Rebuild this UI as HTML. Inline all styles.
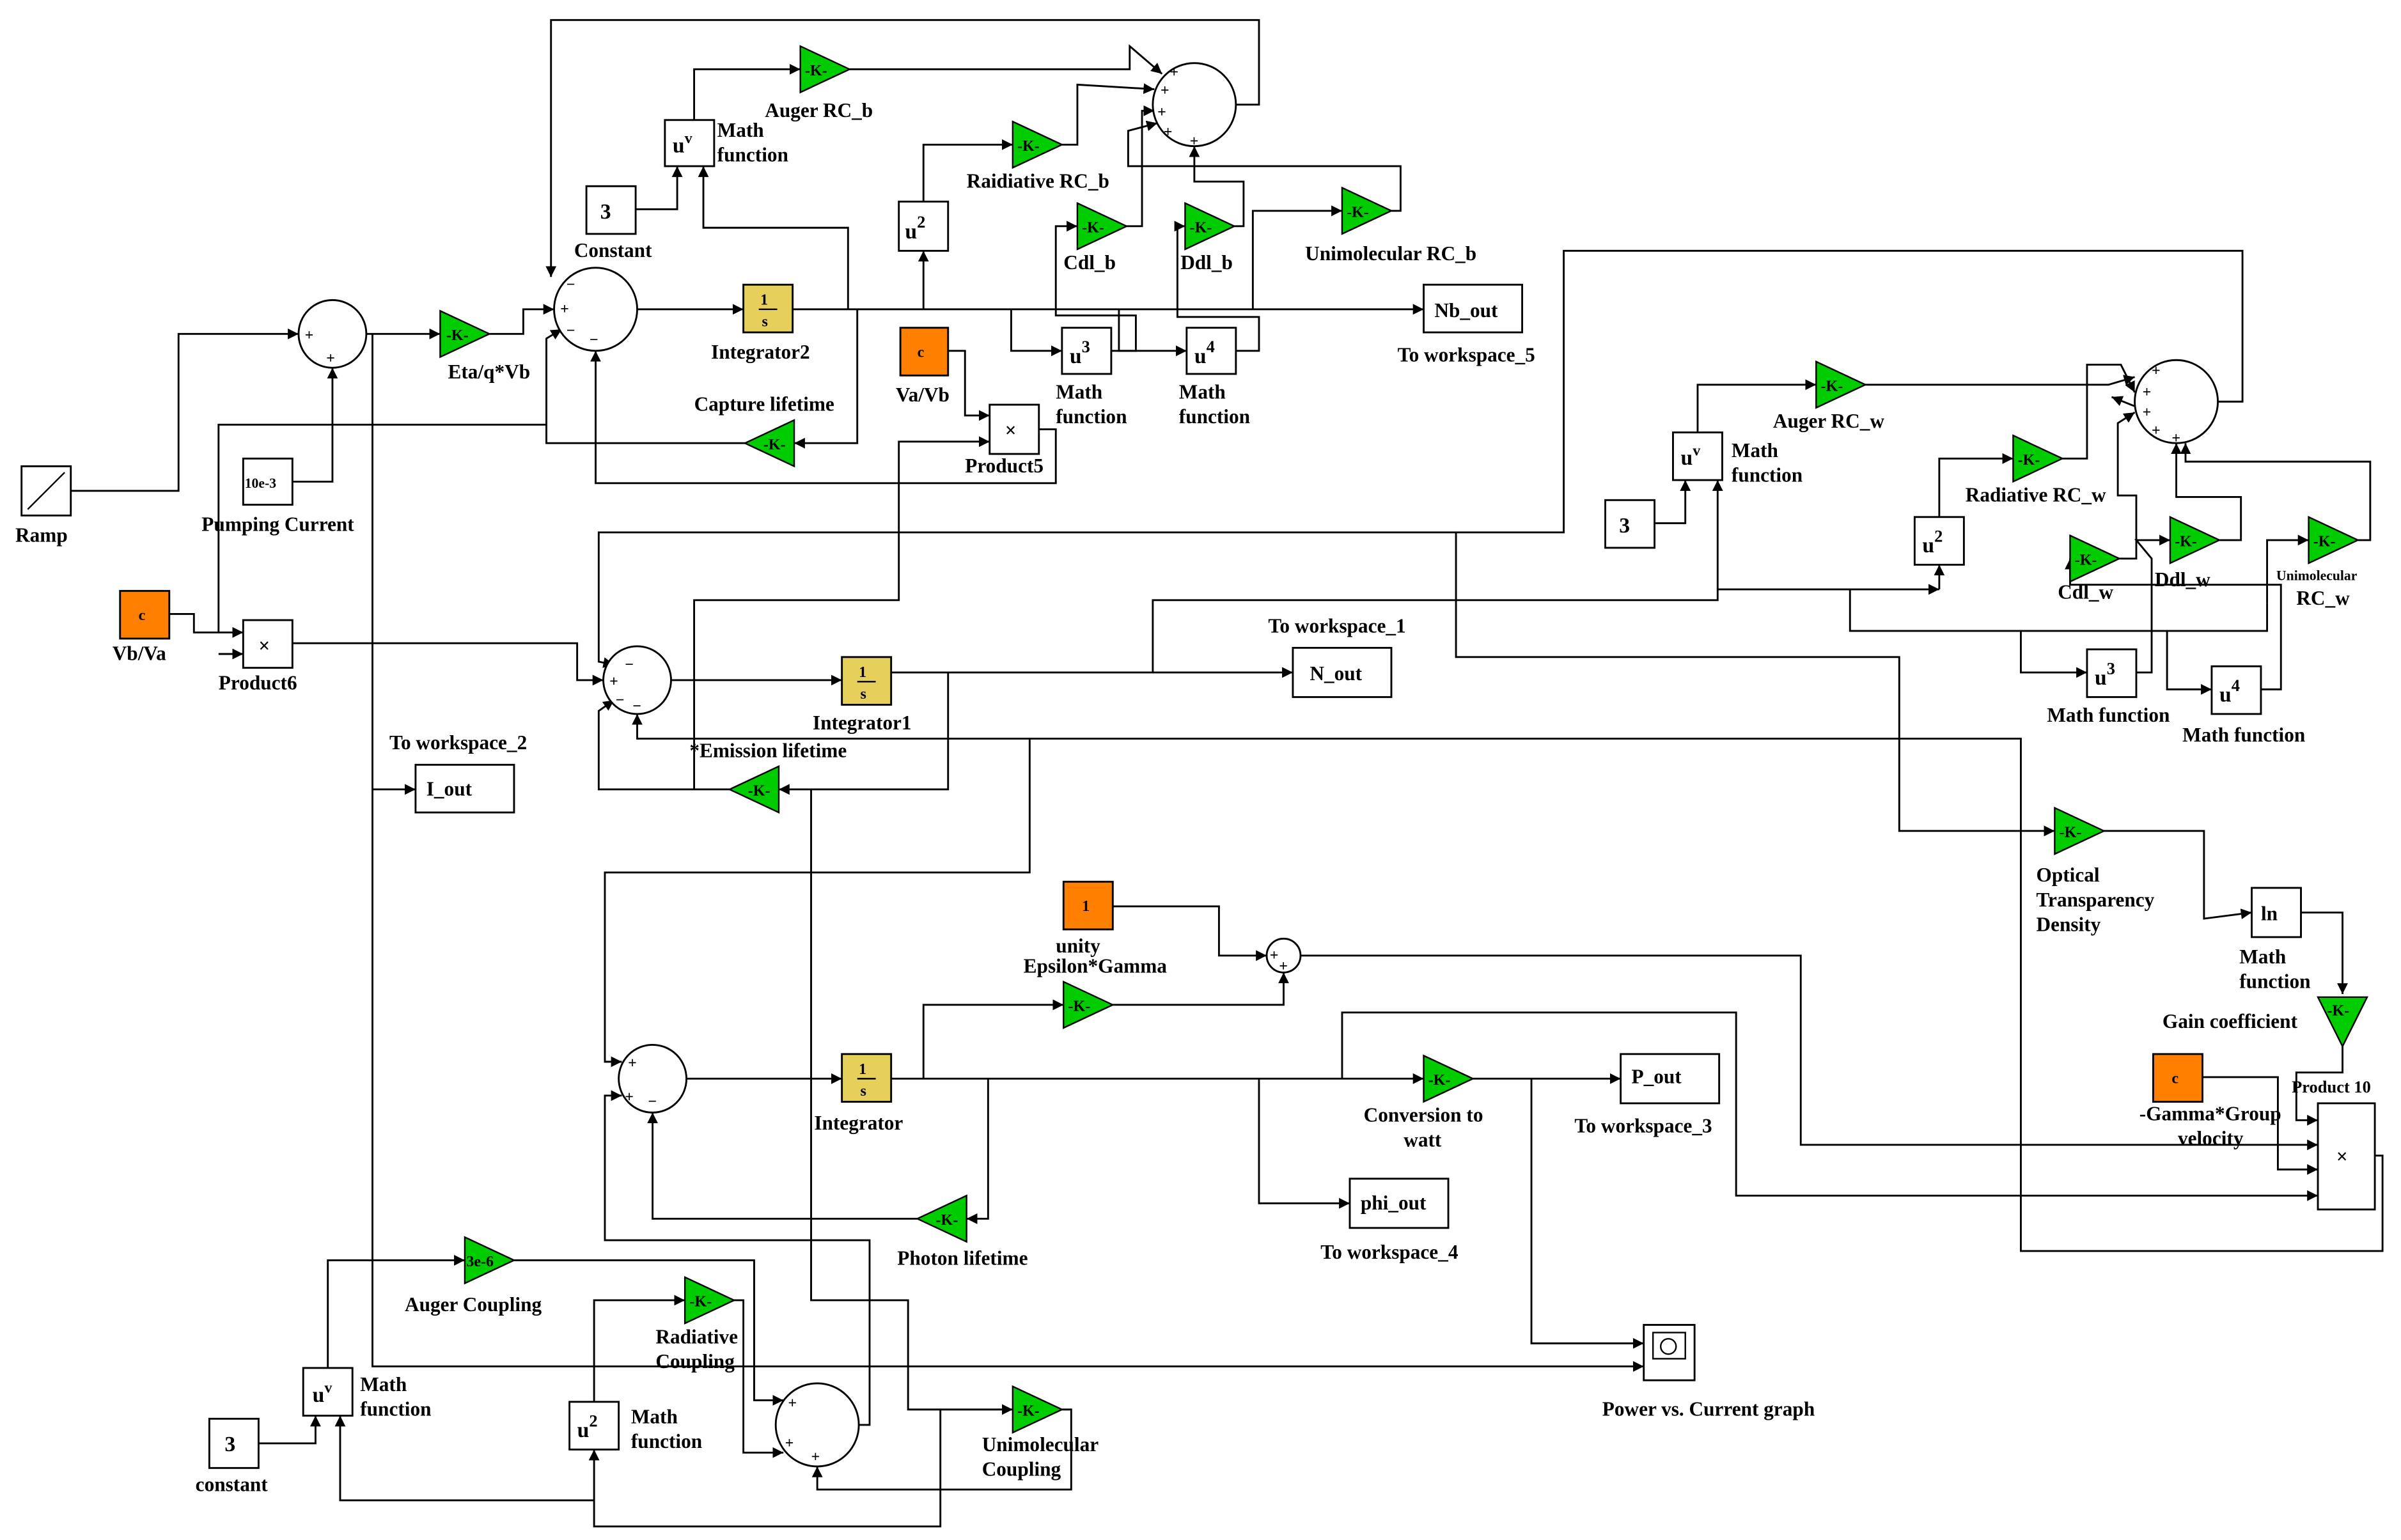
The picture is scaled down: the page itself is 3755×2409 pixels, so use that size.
<!DOCTYPE html>
<html><head><meta charset="utf-8"><style>
html,body{margin:0;padding:0;background:#fff;}
svg{display:block;}
text{font-family:"Liberation Serif",serif;font-weight:bold;font-size:13px;fill:#000;}
.k{font-size:10px;}
.b{fill:#fff;stroke:#000;stroke-width:1.2;}
.g{fill:#00cc00;stroke:#000;stroke-width:1;}
.o{fill:#ff8000;stroke:#000;stroke-width:1.2;}
.y{fill:#e6cf5a;stroke:#000;stroke-width:1.2;}
.l{fill:none;stroke:#000;stroke-width:1.2;marker-end:url(#a);}
.n{fill:none;stroke:#000;stroke-width:1.2;}
</style></head><body>
<svg width="3755" height="2409" viewBox="0 0 1560 1000.8" preserveAspectRatio="none" xmlns="http://www.w3.org/2000/svg">
<defs><marker id="a" markerWidth="8" markerHeight="8" refX="7" refY="4" orient="auto" markerUnits="userSpaceOnUse"><path d="M0,0.5 L7,4 L0,7.5z" fill="#000"/></marker></defs>

<!-- ===== lines ===== -->
<polyline class="l" points="46,319 116,319 116,217 194,217"/>
<polyline class="l" points="190,313 216,313 216,239"/>
<polyline class="l" points="238,217 286,217"/>
<polyline class="l" points="318,217 340,217 340,201 360,201"/>
<polyline class="l" points="414,201 483,201"/>
<polyline class="l" points="515,201 925,201"/>
<polyline class="l" points="551,201 551,148 457,148 457,108"/>
<polyline class="l" points="413,136 440,136 440,108"/>
<polyline class="l" points="451,78 451,45 520,45"/>
<polyline class="l" points="552,45 734,45 734,30 755,48"/>
<polyline class="l" points="600,201 600,163"/>
<polyline class="l" points="600,131 600,94 658,94"/>
<polyline class="l" points="690,94 700,94 700,55 750,58"/>
<polyline class="l" points="657,201 657,228 690,228"/>
<polyline class="l" points="722,228 738,228 738,205 686,205 686,147 700,147"/>
<polyline class="l" points="732,147 742,147 742,72 750,72"/>
<polyline class="l" points="727,201 727,228 771,228"/>
<polyline class="l" points="803,228 818,228 818,206 765,206 765,147 770,147"/>
<polyline class="l" points="802,147 808,147 808,118 776,118 776,95"/>
<polyline class="l" points="814,201 814,137 872,137"/>
<polyline class="l" points="904,137 910,137 910,108 733,108 733,85 752,80"/>
<polyline class="l" points="803,68 818,68 818,13 358,13 358,180"/>
<polyline class="l" points="557,201 557,288 516,288"/>
<polyline class="l" points="484,288 355,288 355,220 365,214"/>
<polyline class="n" points="355,276 142,276 142,411"/>
<polyline class="l" points="616,228 627,228 627,270 643,270"/>
<polyline class="l" points="675,279 686,279 686,314 387,314 387,228"/>
<polyline class="l" points="110,399 126,399 126,411 158,411"/>
<polyline class="l" points="142,425 158,425"/>
<polyline class="l" points="190,418 375,418 375,442 392,442"/>
<polyline class="l" points="436,442 547,442"/>
<polyline class="l" points="579,437 840,437"/>
<polyline class="l" points="749,437 749,390 1116,390 1116,312"/>
<polyline class="n" points="1116,383 1202,383 1202,410 1473,410 1473,392"/>
<polyline class="l" points="616,437 616,513 506,513"/>
<polyline class="l" points="474,513 389,513 389,462 399,455"/>
<polyline class="l" points="451,513 451,390 584,390 584,287 643,287"/>
<polyline class="l" points="946,346 389,346 389,430 399,432"/>
<polyline class="l" points="946,346 946,427 1234,427 1234,540 1335,540"/>
<polyline class="n" points="1441,261 1457,261 1457,163 1016,163 1016,346 946,346"/>
<polyline class="l" points="1543,751 1548,751 1548,813 1313,813 1313,480 414,480 414,464"/>
<polyline class="l" points="669,480 669,567 393,567 393,690 404,690"/>
<polyline class="l" points="242,217 242,888 1068,888"/>
<polyline class="l" points="242,513 270,513"/>
<polyline class="l" points="527,513 527,845 590,845 590,916 658,916"/>
<!-- lower -->
<polyline class="l" points="446,701 547,701"/>
<polyline class="l" points="579,701 925,701"/>
<polyline class="l" points="600,701 600,653 691,653"/>
<polyline class="l" points="723,653 834,653 834,632"/>
<polyline class="l" points="723,589 792,589 792,621 823,621"/>
<polyline class="l" points="845,621 1170,621 1170,744 1506,744"/>
<polyline class="l" points="642,701 642,792 628,792"/>
<polyline class="l" points="596,792 424,792 424,723"/>
<polyline class="l" points="818,701 818,782 877,782"/>
<polyline class="l" points="872,701 872,658 1128,658 1128,777 1506,777"/>
<polyline class="l" points="957,701 1053,701"/>
<polyline class="l" points="995,701 995,873 1068,873"/>
<polyline class="l" points="1431,700 1480,700 1480,760 1506,760"/>
<polyline class="l" points="1522,680 1522,697 1492,697 1492,728 1506,728"/>
<polyline class="l" points="1495,593 1522,593 1522,646"/>
<polyline class="l" points="1367,540 1432,540 1432,597 1463,593"/>
<polyline class="l" points="558,926 565,926 565,806 393,806 393,712 404,712"/>
<polyline class="l" points="213,889 213,819 302,819"/>
<polyline class="l" points="334,819 490,819 490,910 509,910"/>
<polyline class="l" points="386,911 386,845 445,845"/>
<polyline class="l" points="477,845 483,845 483,944 509,944"/>
<polyline class="l" points="168,938 205,938 205,920"/>
<polyline class="l" points="386,975 221,975 221,920"/>
<polyline class="l" points="611,916 611,992 386,992 386,942"/>
<polyline class="l" points="690,916 696,916 696,968 531,968 531,953"/>
<!-- right -->
<polyline class="l" points="1103,281 1103,250 1180,250"/>
<polyline class="l" points="1212,250 1370,250 1387,245"/>
<polyline class="l" points="1075,340 1095,340 1095,312"/>
<polyline class="l" points="1260,383 1260,367"/>
<polyline class="l" points="1260,336 1260,298 1308,298"/>
<polyline class="l" points="1340,298 1356,298 1356,237 1378,237 1387,255"/>
<polyline class="l" points="1377,363 1388,363 1388,322 1376,322 1376,275 1387,268"/>
<polyline class="l" points="1442,351 1456,351 1456,323 1414,323 1414,288"/>
<polyline class="l" points="1532,351 1540,351 1540,300 1420,300 1420,288"/>
<polyline class="l" points="1313,410 1313,437 1356,437"/>
<polyline class="l" points="1388,437 1398,437 1398,363 1388,351 1410,351"/>
<polyline class="l" points="1408,410 1408,448 1437,448"/>
<polyline class="l" points="1469,448 1482,448 1482,380 1345,380 1345,363"/>
<polyline class="l" points="1473,392 1473,351 1500,351"/>
<polyline class="l" points="1202,383 1260,383"/>
<polyline class="l" points="1387,264 1372,258"/>

<!-- ===== blocks ===== -->
<rect class="b" x="14" y="303" width="32" height="32"/><line x1="18" y1="331" x2="42" y2="307" stroke="#000"/>
<text x="10" y="352">Ramp</text>
<circle class="b" cx="216" cy="217" r="22"/><text x="198" y="221" class="k">+</text><text x="212" y="236" class="k">+</text>
<polygon class="g" points="286,202 286,232 318,217"/><text x="290" y="221" class="k">-K-</text>
<text x="291" y="246">Eta/q*Vb</text>
<circle class="b" cx="387" cy="201" r="27"/><text x="368" y="188" class="k">−</text><text x="364" y="204" class="k">+</text><text x="368" y="218" class="k">−</text><text x="383" y="224" class="k">−</text>
<rect class="y" x="483" y="185" width="32" height="31"/><text x="494" y="198" class="k">1</text><line x1="493" y1="201" x2="505" y2="201" stroke="#000"/><text x="495" y="212" class="k">s</text>
<text x="462" y="233">Integrator2</text>
<rect class="b" x="381" y="121" width="32" height="31"/><text x="390" y="142" style="font-size:14px">3</text>
<text x="373" y="167">Constant</text>
<rect class="b" x="432" y="78" width="32" height="30"/><text x="437" y="99" style="font-size:14px">u<tspan dy="-6" font-size="10">v</tspan></text>
<text x="466" y="89">Math</text><text x="466" y="105">function</text>
<polygon class="g" points="520,30 520,60 552,45"/><text x="523" y="49" class="k">-K-</text>
<text x="497" y="76">Auger RC_b</text>
<circle class="b" cx="776" cy="68" r="27"/><text x="760" y="50" class="k">+</text><text x="754" y="62" class="k">+</text><text x="752" y="76" class="k">+</text><text x="756" y="89" class="k">+</text><text x="773" y="95" class="k">+</text>
<polygon class="g" points="658,79 658,109 690,94"/><text x="661" y="98" class="k">-K-</text>
<text x="628" y="122">Raidiative RC_b</text>
<rect class="b" x="584" y="131" width="32" height="32"/><text x="588" y="155" style="font-size:14px">u<tspan dy="-7" font-size="11">2</tspan></text>
<polygon class="g" points="700,132 700,162 732,147"/><text x="703" y="151" class="k">-K-</text>
<text x="691" y="175">Cdl_b</text>
<polygon class="g" points="770,132 770,162 802,147"/><text x="773" y="151" class="k">-K-</text>
<text x="767" y="175">Ddl_b</text>
<polygon class="g" points="872,122 872,152 904,137"/><text x="875" y="141" class="k">-K-</text>
<text x="848" y="169">Unimolecular RC_b</text>
<rect class="b" x="925" y="185" width="64" height="31"/><text x="932" y="206">Nb_out</text>
<text x="908" y="235">To workspace_5</text>
<rect class="b" x="690" y="213" width="32" height="30"/><text x="695" y="236" style="font-size:14px">u<tspan dy="-7" font-size="11">3</tspan></text>
<text x="686" y="259">Math</text><text x="686" y="275">function</text>
<rect class="b" x="771" y="213" width="32" height="30"/><text x="776" y="236" style="font-size:14px">u<tspan dy="-7" font-size="11">4</tspan></text>
<text x="766" y="259">Math</text><text x="766" y="275">function</text>
<rect class="o" x="585" y="213" width="31" height="31"/><text x="596" y="232" class="k">c</text>
<text x="582" y="261">Va/Vb</text>
<rect class="b" x="643" y="263" width="32" height="32"/><text x="653" y="284">×</text>
<text x="627" y="307">Product5</text>
<polygon class="g" points="516,273 516,303 484,288"/><text x="496" y="292" class="k">-K-</text>
<text x="451" y="267">Capture lifetime</text>
<rect class="b" x="158" y="298" width="32" height="30"/><text x="159" y="317" style="font-size:9px">10e-3</text>
<text x="131" y="345">Pumping Current</text>
<rect class="o" x="78" y="384" width="32" height="31"/><text x="90" y="403" class="k">c</text>
<text x="73" y="429">Vb/Va</text>
<rect class="b" x="158" y="403" width="32" height="31"/><text x="168" y="424">×</text>
<text x="142" y="448">Product6</text>
<circle class="b" cx="414" cy="442" r="22"/><text x="406" y="435" class="k">−</text><text x="396" y="446" class="k">+</text><text x="400" y="458" class="k">−</text><text x="411" y="462" class="k">−</text>
<rect class="y" x="547" y="427" width="32" height="31"/><text x="558" y="440" class="k">1</text><line x1="557" y1="443" x2="569" y2="443" stroke="#000"/><text x="559" y="454" class="k">s</text>
<text x="528" y="474">Integrator1</text>
<rect class="b" x="840" y="421" width="64" height="32"/><text x="851" y="442">N_out</text>
<text x="824" y="411">To workspace_1</text>
<polygon class="g" points="506,498 506,528 474,513"/><text x="486" y="517" class="k">-K-</text>
<text x="448" y="492">*Emission lifetime</text>
<rect class="b" x="270" y="497" width="64" height="31"/><text x="277" y="517">I_out</text>
<text x="253" y="487">To workspace_2</text>
<!-- right -->
<circle class="b" cx="1414" cy="261" r="27"/><text x="1398" y="244" class="k">+</text><text x="1392" y="258" class="k">+</text><text x="1392" y="271" class="k">+</text><text x="1398" y="283" class="k">+</text><text x="1411" y="288" class="k">+</text>
<polygon class="g" points="1180,235 1180,265 1212,250"/><text x="1183" y="254" class="k">-K-</text>
<text x="1152" y="278">Auger RC_w</text>
<rect class="b" x="1087" y="281" width="32" height="31"/><text x="1092" y="302" style="font-size:14px">u<tspan dy="-6" font-size="10">v</tspan></text>
<text x="1125" y="297">Math</text><text x="1125" y="313">function</text>
<rect class="b" x="1043" y="325" width="32" height="31"/><text x="1052" y="346" style="font-size:14px">3</text>
<polygon class="g" points="1308,283 1308,313 1340,298"/><text x="1311" y="302" class="k">-K-</text>
<text x="1277" y="326">Radiative RC_w</text>
<rect class="b" x="1244" y="336" width="32" height="31"/><text x="1249" y="359" style="font-size:14px">u<tspan dy="-7" font-size="11">2</tspan></text>
<polygon class="g" points="1345,348 1345,378 1377,363"/><text x="1348" y="367" class="k">-K-</text>
<text x="1337" y="389">Cdl_w</text>
<polygon class="g" points="1410,336 1410,366 1442,351"/><text x="1413" y="355" class="k">-K-</text>
<text x="1400" y="381">Ddl_w</text>
<polygon class="g" points="1500,336 1500,366 1532,351"/><text x="1503" y="355" class="k">-K-</text>
<text x="1479" y="377" style="font-size:9px">Unimolecular</text><text x="1492" y="393">RC_w</text>
<rect class="b" x="1356" y="422" width="32" height="31"/><text x="1361" y="445" style="font-size:14px">u<tspan dy="-7" font-size="11">3</tspan></text>
<text x="1330" y="469">Math function</text>
<rect class="b" x="1437" y="433" width="32" height="31"/><text x="1442" y="456" style="font-size:14px">u<tspan dy="-7" font-size="11">4</tspan></text>
<text x="1418" y="482">Math function</text>
<polygon class="g" points="1335,525 1335,555 1367,540"/><text x="1338" y="544" class="k">-K-</text>
<text x="1323" y="573">Optical</text><text x="1323" y="589">Transparency</text><text x="1323" y="605">Density</text>
<rect class="b" x="1463" y="577" width="32" height="32"/><text x="1469" y="598">ln</text>
<text x="1455" y="626">Math</text><text x="1455" y="642">function</text>
<polygon class="g" points="1506,648 1538,648 1522,680"/><text x="1512" y="660" class="k">-K-</text>
<text x="1405" y="668">Gain coefficient</text>
<rect class="o" x="1399" y="685" width="32" height="31"/><text x="1411" y="704" class="k">c</text>
<text x="1390" y="728">-Gamma*Group</text><text x="1415" y="744">velocity</text>
<rect class="b" x="1506" y="717" width="37" height="69"/><text x="1518" y="756">×</text>
<text x="1489" y="710" style="font-size:11px">Product 10</text>
<!-- lower -->
<rect class="o" x="691" y="573" width="32" height="31"/><text x="703" y="592" class="k">1</text>
<text x="686" y="619">unity</text><text x="665" y="632">Epsilon*Gamma</text>
<circle class="b" cx="834" cy="621" r="11"/><text x="825" y="624" class="k">+</text><text x="831" y="631" class="k">+</text>
<polygon class="g" points="691,638 691,668 723,653"/><text x="694" y="657" class="k">-K-</text>
<circle class="b" cx="424" cy="701" r="22"/><text x="408" y="694" class="k">+</text><text x="406" y="716" class="k">+</text><text x="421" y="719" class="k">−</text>
<rect class="y" x="547" y="685" width="32" height="31"/><text x="558" y="698" class="k">1</text><line x1="557" y1="701" x2="569" y2="701" stroke="#000"/><text x="559" y="712" class="k">s</text>
<text x="529" y="734">Integrator</text>
<polygon class="g" points="925,686 925,716 957,701"/><text x="928" y="705" class="k">-K-</text>
<text x="886" y="729">Conversion to</text><text x="912" y="745">watt</text>
<rect class="b" x="1053" y="685" width="64" height="32"/><text x="1060" y="704">P_out</text>
<text x="1023" y="736">To workspace_3</text>
<rect class="b" x="877" y="766" width="64" height="32"/><text x="884" y="786">phi_out</text>
<text x="858" y="818">To workspace_4</text>
<polygon class="g" points="628,777 628,807 596,792"/><text x="608" y="796" class="k">-K-</text>
<text x="583" y="822">Photon lifetime</text>
<rect class="b" x="1068" y="861" width="33" height="36" stroke-width="2"/><rect x="1074" y="866" width="21" height="17" fill="#fff" stroke="#000"/><circle cx="1084" cy="875" r="5" fill="none" stroke="#000"/>
<text x="1041" y="920">Power vs. Current graph</text>
<polygon class="g" points="302,804 302,834 334,819"/><text x="303" y="823" class="k">3e-6</text>
<text x="263" y="852">Auger Coupling</text>
<polygon class="g" points="445,830 445,860 477,845"/><text x="448" y="849" class="k">-K-</text>
<text x="426" y="873">Radiative</text><text x="426" y="889">Coupling</text>
<rect class="b" x="197" y="889" width="32" height="31"/><text x="203" y="911" style="font-size:14px">u<tspan dy="-6" font-size="10">v</tspan></text>
<text x="234" y="904">Math</text><text x="234" y="920">function</text>
<rect class="b" x="136" y="922" width="32" height="32"/><text x="146" y="943" style="font-size:14px">3</text>
<text x="127" y="969">constant</text>
<rect class="b" x="370" y="911" width="32" height="31"/><text x="375" y="934" style="font-size:14px">u<tspan dy="-7" font-size="11">2</tspan></text>
<text x="410" y="925">Math</text><text x="410" y="941">function</text>
<circle class="b" cx="531" cy="926" r="27"/><text x="512" y="915" class="k">+</text><text x="510" y="941" class="k">+</text><text x="527" y="950" class="k">+</text>
<polygon class="g" points="658,901 658,931 690,916"/><text x="661" y="920" class="k">-K-</text>
<text x="638" y="943">Unimolecular</text><text x="638" y="959">Coupling</text>
</svg>
</body></html>
